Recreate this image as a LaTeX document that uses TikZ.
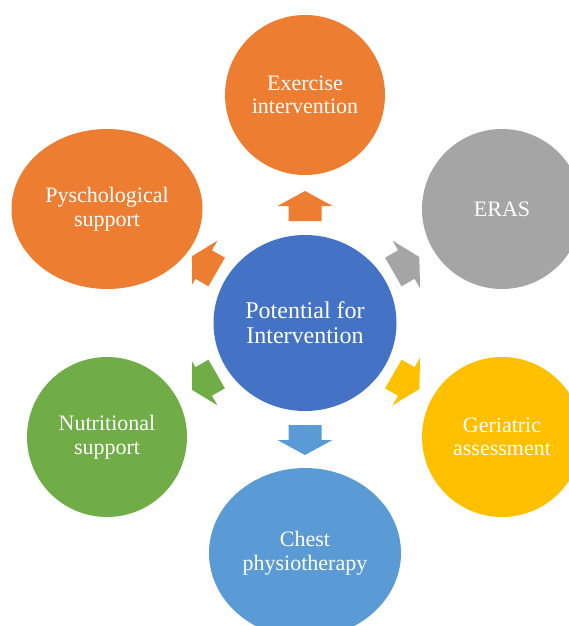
\documentclass[tikz,border=0pt]{standalone}
\usepackage{fontspec}
\setmainfont{Liberation Serif}
\usetikzlibrary{shapes.geometric}

\definecolor{offblue}{HTML}{4472C4}
\definecolor{offorange}{HTML}{ED7D31}
\definecolor{offgray}{HTML}{A5A5A5}
\definecolor{offyellow}{HTML}{FFC000}
\definecolor{offsky}{HTML}{5B9BD5}
\definecolor{offgreen}{HTML}{70AD47}

\begin{document}
\begin{tikzpicture}[
  x=1pt, y=-1pt,
  hub/.style={ellipse, fill=offblue, text=white, inner sep=0pt,
    minimum width=183pt, minimum height=176pt, align=center,
    font=\fontsize{24}{25}\selectfont},
  spoke/.style={ellipse, text=white, inner sep=0pt, align=center,
    font=\fontsize{22}{23.5}\selectfont},
  round/.style={minimum width=160pt, minimum height=160pt},
  wide/.style={minimum width=191pt, minimum height=160pt}
]

% --- page ---
\clip (0,0) rectangle (569,626);

% --- parameters ---
\def\tl{102}   % tail distance from hub centre
\def\sh{117}   % shoulder distance
\def\tp{132}   % tip distance

% --- centre ---
\node[hub] (hub) at (305,323) {Potential for\\Intervention};

% --- satellites ---
\node[spoke, round, fill=offorange] (exer)  at (305,95)  {Exercise\\intervention};
\node[spoke, round, fill=offgray]   (eras)  at (502,209) {ERAS};
\node[spoke, round, fill=offyellow] (geri)  at (502,437) {Geriatric\\assessment};
\node[spoke, fill=offsky, minimum width=192pt, minimum height=170pt]
                                    (chest) at (305,553) {Chest\\physiotherapy};
\node[spoke, round, fill=offgreen]  (nutri) at (107,437) {Nutritional\\support};
\node[spoke, wide, fill=offorange]  (psych) at (107,209) {Pyschological\\support};

% --- block arrows out of the hub ---
\begin{scope}
  \clip (192,0) rectangle (423,626);
  \foreach \ang/\col in {0/offorange, -60/offgray, -120/offyellow,
                         180/offsky, 120/offgreen, 60/offorange} {
    \begin{scope}[shift={(hub.center)}, rotate=\ang]
      \fill[\col] (-16.5,-\tl) -- (-16.5,-\sh) -- (-27.5,-\sh) -- (0,-\tp)
        -- (27.5,-\sh) -- (16.5,-\sh) -- (16.5,-\tl) -- cycle;
    \end{scope}
  }
\end{scope}

\end{tikzpicture}
\end{document}
